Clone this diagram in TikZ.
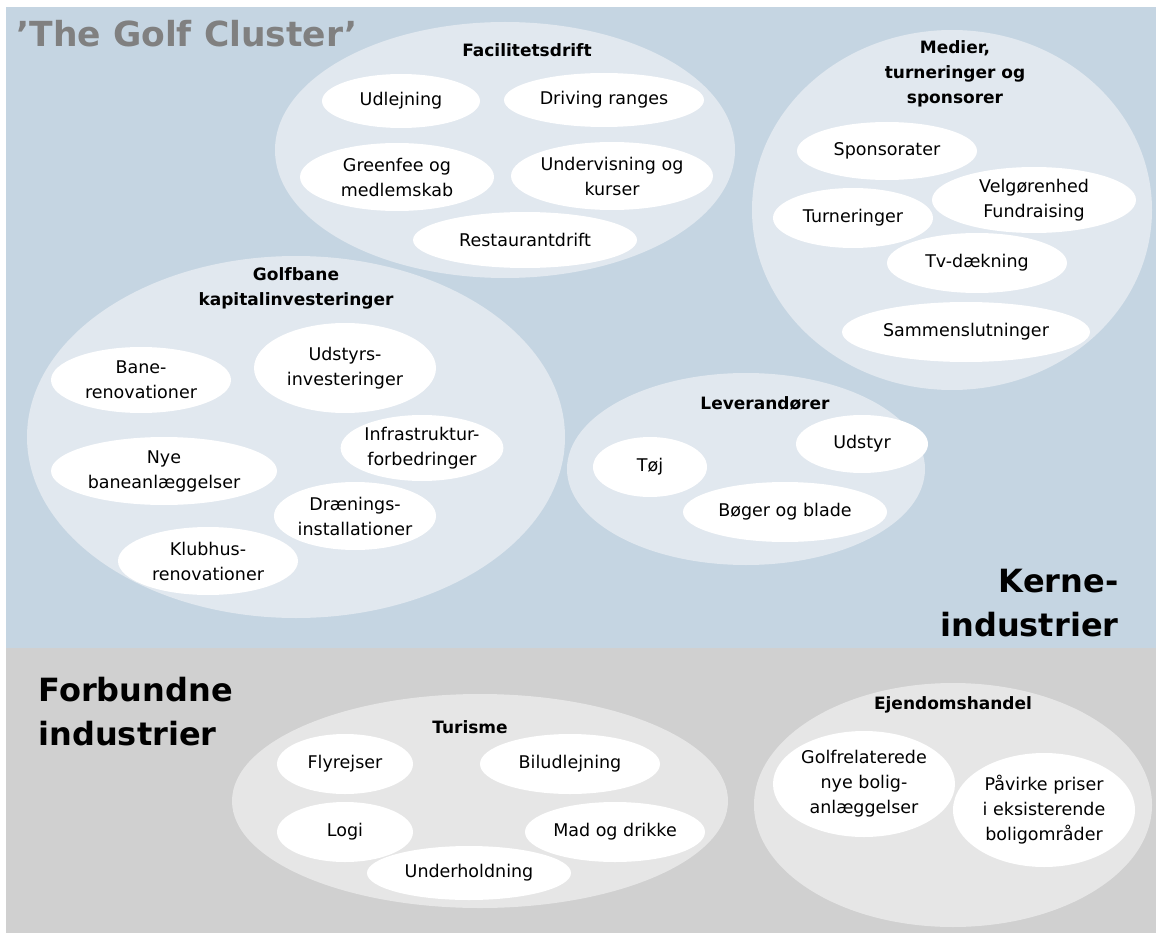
\documentclass[tikz,border=0pt]{standalone}
\usepackage{fontspec}
\setmainfont{DejaVu Sans}
\usetikzlibrary{shapes.geometric}

\definecolor{coreblue}{HTML}{C5D5E2}
\definecolor{corelight}{HTML}{E1E8EF}
\definecolor{relgray}{HTML}{D0D0D0}
\definecolor{rellight}{HTML}{E6E6E6}
\definecolor{titlegray}{HTML}{808080}

\tikzset{
    % big pale ellipse holding one group of activities (width, height)
    sector/.style 2 args={ellipse, inner sep=0pt, minimum width=#1, minimum height=#2},
    % white ellipse with one activity in it (width, height)
    activity/.style 2 args={ellipse, fill=white, inner sep=0pt, align=center,
        minimum width=#1, minimum height=#2, font=\fontsize{17.5}{25}\selectfont},
    sectortitle/.style={align=center, font=\bfseries\fontsize{17}{25}\selectfont},
    bandtitle/.style={font=\bfseries\fontsize{32}{44}\selectfont},
}

\begin{document}
\begin{tikzpicture}[x=1pt, y=-1pt]
        % the coordinates are in pixels of the original sheet, so y grows downwards
        \useasboundingbox (0,0) rectangle (1156,933);

        % the two bands: core industries on top, related industries below
        \fill[coreblue] (6,7) rectangle (1156,648);
        \fill[relgray] (6,648) rectangle (1156,933);

        \node[bandtitle, font=\bfseries\fontsize{34.5}{44}\selectfont, text=titlegray, anchor=base west]
            (cluster) at (13,47) {'The Golf Cluster'};
        \node[bandtitle, align=right, anchor=east] (kerne) at (1122,603) {Kerne-\\industrier};
        \node[bandtitle, align=left, anchor=west] (forbundne) at (35,712) {Forbundne\\industrier};

        % the sectors are drawn first so that the white ellipses sit on top of them
        \node[sector={460}{256}, fill=corelight] (fac) at (505,150) {};
        \node[sector={400}{360}, fill=corelight] (medier) at (952,210) {};
        \node[sector={538}{362}, fill=corelight] (golfbane) at (296,437) {};
        \node[sector={358}{192}, fill=corelight] (lev) at (746,469) {};
        \node[sector={496}{214}, fill=rellight] (turisme) at (480,801) {};
        \node[sector={398}{244}, fill=rellight] (ejendom) at (953,805) {};

        \node[sectortitle] (fac-title) at (527,50) {Facilitetsdrift};
        \node[sectortitle] (medier-title) at (955,74) {Medier,\\turneringer og\\sponsorer};
        \node[sectortitle] (golfbane-title) at (296,288) {Golfbane\\kapitalinvesteringer};
        \node[sectortitle] (lev-title) at (765,403) {Leverandører};
        \node[sectortitle] (turisme-title) at (470,727) {Turisme};
        \node[sectortitle] (ejendom-title) at (953,705) {Ejendomshandel};

        % facilitetsdrift
        \node[activity={158}{54}] (udlejning) at (401,101) {Udlejning};
        \node[activity={200}{54}] (driving) at (604,100) {Driving ranges};
        \node[activity={194}{68}] (greenfee) at (397,177) {Greenfee og\\medlemskab};
        \node[activity={184}{68}] (undervisning) at (612,176) {Undervisning og\\kurser};
        \node[activity={224}{56}] (restaurant) at (525,240) {Restaurantdrift};

        % medier, turneringer og sponsorer
        \node[activity={180}{58}] (sponsorater) at (887,151) {Sponsorater};
        \node[activity={204}{66}] (velgoerenhed) at (1034,200) {Velgørenhed\\Fundraising};
        \node[activity={160}{60}] (turneringer) at (853,218) {Turneringer};
        \node[activity={180}{60}] (tv) at (977,263) {Tv-dækning};
        \node[activity={248}{60}] (sammen) at (966,332) {Sammenslutninger};

        % golfbane kapitalinvesteringer
        \node[activity={180}{66}] (banereno) at (141,380) {Bane-\\renovationer};
        \node[activity={182}{90}] (udstyrsinv) at (345,368) {Udstyrs-\\investeringer};
        \node[activity={158}{66}] (infra) at (422,448) {Infrastruktur-\\forbedringer};
        \node[activity={226}{68}] (nyebane) at (164,471) {Nye\\baneanlæggelser};
        \node[activity={156}{68}] (draening) at (355,516) {Drænings-\\installationer};
        \node[activity={180}{68}] (klubhus) at (208,561) {Klubhus-\\renovationer};

        % leverandører
        \node[activity={114}{60}] (toej) at (650,467) {Tøj};
        \node[activity={132}{58}] (udstyr) at (862,444) {Udstyr};
        \node[activity={204}{60}] (boeger) at (785,512) {Bøger og blade};

        % turisme
        \node[activity={136}{60}] (fly) at (345,764) {Flyrejser};
        \node[activity={180}{60}] (bil) at (570,764) {Biludlejning};
        \node[activity={136}{60}] (logi) at (345,832) {Logi};
        \node[activity={180}{60}] (mad) at (615,832) {Mad og drikke};
        \node[activity={204}{54}] (underholdning) at (469,873) {Underholdning};

        % ejendomshandel
        \node[activity={182}{106}] (golfbolig) at (864,784) {Golfrelaterede\\nye bolig-\\anlæggelser};
        \node[activity={182}{114}] (priser) at (1044,810) {Påvirke priser\\i eksisterende\\boligområder};
    \end{tikzpicture}
\end{document}
